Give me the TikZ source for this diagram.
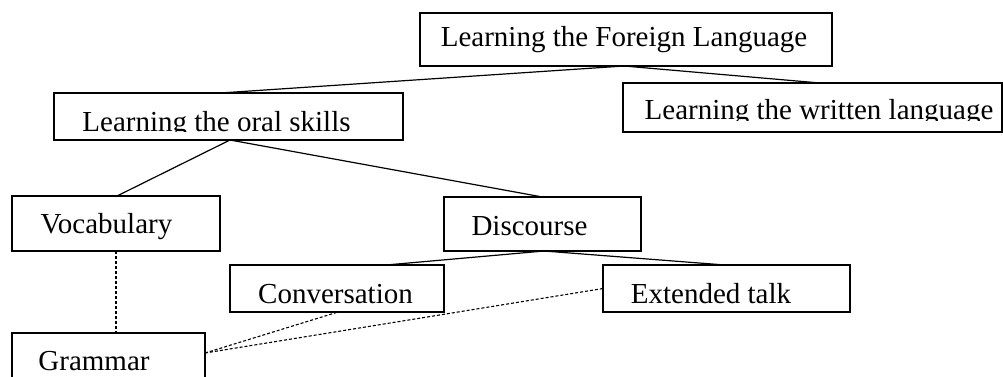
\documentclass[tikz,border=0pt]{standalone}
\usepackage{fontspec}
\setmainfont{Liberation Serif}
\begin{document}
\begin{tikzpicture}[x=1pt,y=-1pt,
  box/.style={draw=black,line width=1.3pt,rectangle,inner sep=0pt,outer sep=0pt},
  txt/.style={inner sep=0pt,outer sep=0pt,anchor=base,font=\fontsize{29}{34}\selectfont},
  link/.style={draw=black,line width=1.2pt},
  dlink/.style={draw=black,line width=1.1pt,dash pattern=on 3pt off 2pt}]
\clip (0,0) rectangle (1003,376);
\fill[white] (0,0) rectangle (1003,376);
% boxes
\node[box,minimum width=412pt,minimum height=53pt] (fl) at (626,39.5) {};
\node[box,minimum width=379pt,minimum height=49pt] (wr) at (812.5,107.5) {};
\node[box,minimum width=349pt,minimum height=47pt] (or) at (228.5,116.5) {};
\node[box,minimum width=208pt,minimum height=55pt] (voc) at (116,223.5) {};
\node[box,minimum width=197pt,minimum height=54pt] (dis) at (542.5,224) {};
\node[box,minimum width=214pt,minimum height=47pt] (conv) at (337,288.5) {};
\node[box,minimum width=247pt,minimum height=47pt] (ext) at (726.5,288.5) {};
\node[box,minimum width=193pt,minimum height=57pt] (gr) at (108.5,361.5) {};
% texts
\node[txt] (flt) at (624,46) {Learning the Foreign Language};
\begin{scope}
\clip (623,83) rectangle (1002,120);
\node[txt] (wrt) at (819,119) {Learning the written language};
\end{scope}
\begin{scope}
\clip (54,93) rectangle (403,131);
\node[txt] (ort) at (216.5,131) {Learning the oral skills};
\end{scope}
\node[txt] (voct) at (106.5,233) {Vocabulary};
\node[txt] (dist) at (529.5,235) {Discourse};
\node[txt] (convt) at (335.5,303) {Conversation};
\node[txt] (extt) at (711,303) {Extended talk};
\node[txt] (grt) at (94,370) {Grammar};
% solid connectors
\draw[link] ([xshift=-2pt]fl.south) -- ([xshift=-8.5pt]or.north);
\draw[link] ([xshift=-2pt]fl.south) -- ([xshift=7.5pt]wr.north);
\draw[link] ([xshift=1.5pt]or.south) -- ([xshift=1pt]voc.north);
\draw[link] ([xshift=1.5pt]or.south) -- (dis.north);
\draw[link] ([xshift=1.5pt]dis.south) -- ([xshift=49pt]conv.north);
\draw[link] ([xshift=1.5pt]dis.south) -- ([xshift=-1.5pt]ext.north);
% dashed connectors
\draw[dlink] (voc.south) -- (voc.south |- gr.north);
\draw[dlink] ([yshift=8.5pt]gr.east) -- ([xshift=1pt]conv.south);
\draw[dlink] ([yshift=8.5pt]gr.east) -- (ext.west);
\end{tikzpicture}
\end{document}
